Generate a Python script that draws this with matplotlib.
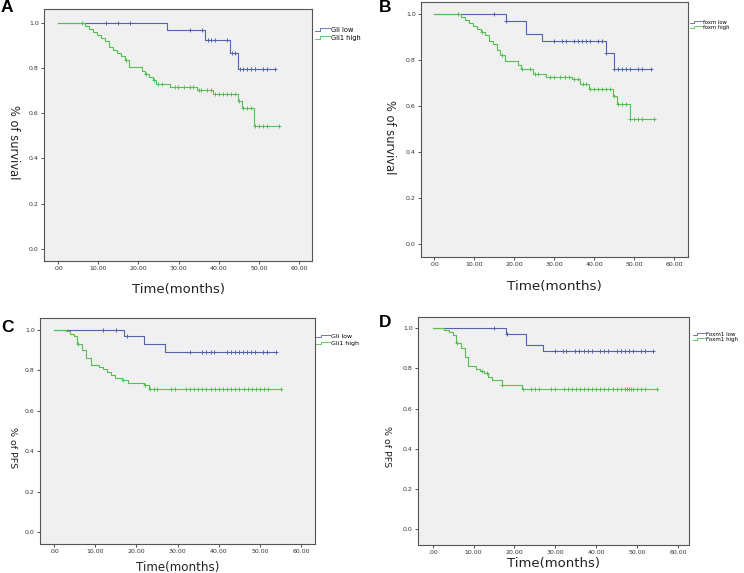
import numpy as np
import matplotlib
matplotlib.use("Agg")
import matplotlib.pyplot as plt
from matplotlib.lines import Line2D
from matplotlib.legend_handler import HandlerBase

BLUE = "#5163ae"
GREEN = "#55bf55"

# ---- panel A: Gli1, overall survival
A_low_t = [27, 36.7, 42.9, 44.9]
A_low_s = [0.966, 0.925, 0.868, 0.794]
A_low_cens = [12, 15, 18, 32.8, 35.8, 37.3, 38.1, 39, 42, 43.3, 44, 45.2, 46.1, 47.1, 48, 49, 50.9, 51.9, 54.1]
A_high_t = [6.8, 7.8, 8.8, 9.8, 10.8, 11.8, 12.8, 13.8, 14.8, 15.8, 16.6, 17.7, 20.8, 21.7, 22.6, 23.6,
            24.5, 27.9, 34.6, 38.5, 44.8, 45.7, 48.8]
A_high_s = [0.987, 0.973, 0.960, 0.947, 0.933, 0.920, 0.893, 0.880, 0.867, 0.853, 0.835, 0.803, 0.787, 0.773,
            0.760, 0.747, 0.729, 0.716, 0.704, 0.686, 0.655, 0.621, 0.542]
A_high_cens = [6, 16.9, 22, 24, 25, 26, 29.1, 29.9, 31.3, 32.8, 33.7, 35, 35.7, 37, 38, 39, 40, 41, 42, 43, 44,
               45.1, 46.1, 47, 48, 49, 50, 51, 52, 55]

# ---- panel B: foxm, overall survival
B_low_t = [17.9, 22.9, 27, 42.9, 44.9]
B_low_s = [0.971, 0.913, 0.884, 0.830, 0.761]
B_low_cens = [15, 18.1, 30, 32, 33, 35, 36, 37, 38, 39, 41, 42, 43.1, 45.1, 46, 47, 48, 49, 51, 52, 54.2]
B_high_t = [6.8, 7.8, 8.8, 9.8, 10.8, 11.8, 12.8, 13.8, 14.8, 15.8, 16.6, 17.7, 20.9, 21.8, 24.8, 28,
            34.4, 36.5, 38.7, 44.8, 45.7, 48.9]
B_high_s = [0.987, 0.974, 0.961, 0.948, 0.935, 0.922, 0.909, 0.883, 0.870, 0.844, 0.821, 0.798, 0.781, 0.764,
            0.738, 0.727, 0.717, 0.697, 0.676, 0.644, 0.611, 0.545]
B_high_cens = [6, 12, 17, 22, 24, 25.2, 26, 29, 30, 31.5, 32.8, 33.8, 35, 36, 37.2, 38, 39, 40, 41, 42, 43, 44,
               45, 46, 47, 48, 49, 50, 51, 52, 55]

# ---- panel C: Gli1, PFS
C_low_t = [17, 21.9, 26.9]
C_low_s = [0.967, 0.927, 0.891]
C_low_cens = [12, 15, 17.8, 33, 36, 37, 38, 38.9, 41.9, 42.9, 43.9, 44.8, 45.8, 46.8, 47.7, 48.9, 50.8, 51.8, 53.9]
C_high_t = [3, 3.9, 4.8, 5.6, 6.7, 7.7, 8.9, 10.8, 11.8, 12.8, 13.8, 14.8, 16.5, 17.9, 21.9, 23]
C_high_s = [0.992, 0.980, 0.968, 0.929, 0.900, 0.861, 0.824, 0.815, 0.804, 0.791, 0.778, 0.762, 0.750, 0.737,
            0.727, 0.704]
C_high_cens = [5.9, 16.8, 22, 23.4, 24.3, 25.1, 28.5, 29.3, 32, 33, 34, 35, 36, 37, 38, 39, 40, 41, 42, 43, 44,
               45, 46, 47, 48, 49, 50, 51, 52, 55]

# ---- panel D: Foxm1, PFS
D_low_t = [17.9, 22.8, 27]
D_low_s = [0.972, 0.916, 0.885]
D_low_cens = [15, 18.1, 29.8, 31.8, 32.7, 34.9, 35.9, 36.9, 37.9, 39, 41, 42, 43, 45, 46, 47, 48, 49, 51, 52, 54]
D_high_t = [2.8, 4, 5, 5.8, 6.8, 7.9, 8.7, 10.6, 11.6, 12.6, 13.5, 14.5, 16.9, 21.8]
D_high_s = [0.990, 0.980, 0.965, 0.925, 0.900, 0.856, 0.810, 0.799, 0.788, 0.776, 0.757, 0.743, 0.720, 0.698]
D_high_cens = [6, 12, 13.4, 17, 22, 24.1, 25.1, 26, 29, 29.8, 32, 33, 34, 35, 36, 37, 38, 39, 40, 41, 42, 43,
               44, 45, 46, 47, 47.5, 48, 48.5, 49, 50, 51, 52, 54.8]

x_ticks = [0, 10, 20, 30, 40, 50, 60]
x_ticklabels = [".00", "10.00", "20.00", "30.00", "40.00", "50.00", "60.00"]
y_ticks = [0.0, 0.2, 0.4, 0.6, 0.8, 1.0]


class StepHandler(HandlerBase):
    # SPSS style legend sample: small step
    def create_artists(self, legend, orig_handle, xdescent, ydescent, width, height, fontsize, trans):
        x0 = -xdescent
        y0 = -ydescent
        xs = [x0, x0 + 0.35 * width, x0 + 0.35 * width, x0 + width]
        ys = [y0 + 0.25 * height, y0 + 0.25 * height, y0 + 0.85 * height, y0 + 0.85 * height]
        ln = Line2D(xs, ys, color=orig_handle.get_color(), lw=0.6)
        ln.set_transform(trans)
        return [ln]


def km_curve(ax, times, surv, cens, color, label):
    times = np.asarray(times)
    surv = np.asarray(surv)
    end = max(max(cens), times[-1])
    x = np.r_[0, times, end]
    y = np.r_[1.0, surv, surv[-1]]
    ln, = ax.step(x, y, where="post", color=color, lw=0.8, label=label)
    idx = np.searchsorted(times, cens, side="right")
    ax.plot(cens, np.r_[1.0, surv][idx], ls="none", marker="+", ms=3.2, mew=0.7, color=color)
    return ln


W, H = 744, 573
fig = plt.figure(figsize=(W / 100, H / 100), dpi=100)


def panel(box, xlim, ylim, curves, labels, ylabel, letter, letter_xy, ylabel_xy, xlab_y, xlab_fs,
          yl_fs, leg_anchor, leg_fs, leg_sp):
    l, t, r, b = box
    ax = fig.add_axes([l / W, 1 - b / H, (r - l) / W, (b - t) / H])
    ax.set_facecolor("#f0f0f0")
    handles = []
    for (tt, ss, cc, col), lab in zip(curves, labels):
        handles.append(km_curve(ax, tt, ss, cc, col, lab))
    ax.set_xlim(*xlim)
    ax.set_ylim(*ylim)
    ax.set_xticks(x_ticks)
    ax.set_xticklabels(x_ticklabels)
    ax.set_yticks(y_ticks)
    ax.set_yticklabels(["%.1f" % v for v in y_ticks])
    ax.tick_params(labelsize=4.5, length=2.2, width=0.6, pad=1.5, colors="#333333")
    for sp in ax.spines.values():
        sp.set_color("#555555")
        sp.set_linewidth(0.8)
    ax.set_xlabel("Time(months)", fontsize=xlab_fs, color="#222222", va="top")
    ax.xaxis.set_label_coords(0.5, -(xlab_y - b) / (b - t))
    fig.text(ylabel_xy[0] / W, 1 - ylabel_xy[1] / H, ylabel, rotation=270, ha="center", va="center",
             fontsize=yl_fs, color="#222222")
    fig.text(letter_xy[0] / W, 1 - letter_xy[1] / H, letter, fontsize=12.5, weight="bold",
             family=["Liberation Sans", "DejaVu Sans"], ha="left", va="top")
    ax.legend(handles=handles, handler_map={Line2D: StepHandler()}, loc="upper left",
              bbox_to_anchor=((leg_anchor[0] - l) / (r - l), (b - leg_anchor[1]) / (b - t)),
              frameon=False, fontsize=leg_fs, handlelength=2.2, handletextpad=0.2,
              labelspacing=leg_sp, borderaxespad=0, borderpad=0)
    return ax


panel((44, 9, 312, 261), (-3.48, 63.2), (-0.054, 1.061),
      [(A_low_t, A_low_s, A_low_cens, BLUE), (A_high_t, A_high_s, A_high_cens, GREEN)],
      ["Gli low", "Gli1 high"], "% of survival", "A", (1, 0), (13, 142), 283, 9.5, 8.3,
      (315, 27), 4.8, 0.35)

panel((421, 2, 688, 257), (-3.25, 63.5), (-0.055, 1.053),
      [(B_low_t, B_low_s, B_low_cens, BLUE), (B_high_t, B_high_s, B_high_cens, GREEN)],
      ["foxm low", "foxm high"], "% of survival", "B", (379, 0), (389, 137), 280, 9.7, 8.3,
      (690, 20), 3.8, 0.05)

panel((40, 318, 315, 544), (-3.4, 63.35), (-0.059, 1.057),
      [(C_low_t, C_low_s, C_low_cens, BLUE), (C_high_t, C_high_s, C_high_cens, GREEN)],
      ["Gli low", "Gli1 high"], "% of PFS", "C", (1, 320), (12, 448), 561, 8.6, 6.8,
      (316, 334), 4.5, 0.25)

panel((418, 317, 689, 545), (-3.6, 62.7), (-0.078, 1.056),
      [(D_low_t, D_low_s, D_low_cens, BLUE), (D_high_t, D_high_s, D_high_cens, GREEN)],
      ["Foxm1 low", "Foxm1 high"], "% of PFS", "D", (379, 315), (387, 447), 557, 9.5, 6.8,
      (693, 332), 4.0, 0.05)

fig.savefig("out.png", dpi=100, facecolor="white")
